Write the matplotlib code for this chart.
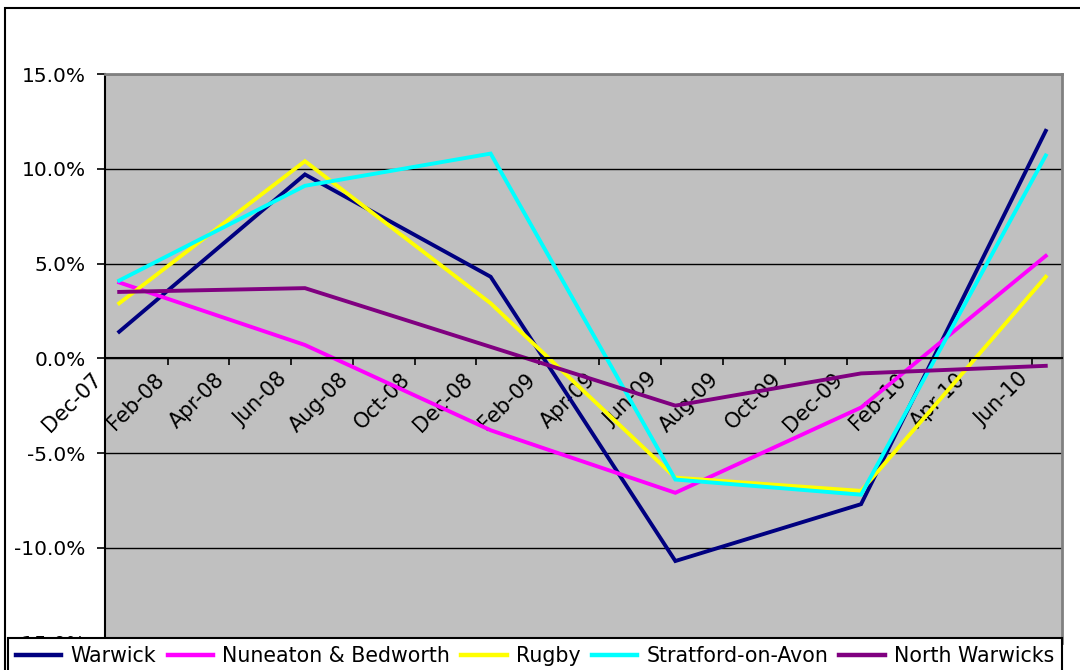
import numpy as np
import pandas as pd
import matplotlib
matplotlib.use("Agg")
import matplotlib.pyplot as plt
import matplotlib.dates as mdates
from matplotlib.patches import Rectangle
from matplotlib.ticker import FuncFormatter

# data (percentage change)
dates = pd.to_datetime(["2007-12-15", "2008-06-15", "2008-12-15",
                        "2009-06-15", "2009-12-15", "2010-06-15"])
warwick = [1.4, 9.7, 4.3, -10.7, -7.7, 12.0]
nuneaton = [4.0, 0.7, -3.8, -7.1, -2.6, 5.4]
rugby = [2.9, 10.4, 2.9, -6.3, -7.0, 4.3]
stratford = [4.1, 9.1, 10.8, -6.4, -7.2, 10.7]
north_warwicks = [3.5, 3.7, 0.6, -2.5, -0.8, -0.4]

names = ["Warwick", "Nuneaton & Bedworth", "Rugby", "Stratford-on-Avon", "North Warwicks"]
series = [warwick, nuneaton, rugby, stratford, north_warwicks]
colors = ["#000080", "#FF00FF", "#FFFF00", "#00FFFF", "#800080"]

plt.rcParams['font.family'] = ['DejaVu Sans']
plt.rcParams['font.size'] = 14

W, H = 1080, 670
fig = plt.figure(figsize=(W / 100, H / 100), dpi=100)
ax = fig.add_axes([105 / W, 1 - 642.5 / H, (1062 - 105) / W, (642.5 - 74) / H])
ax.set_facecolor("#C0C0C0")
ax.set_axisbelow(True)

for vals, name, c in zip(series, names, colors):
    ax.plot(dates, vals, color=c, lw=2.8, label=name, solid_joinstyle='miter')

ax.set_ylim(-15, 15)
ax.set_yticks(np.arange(-15, 16, 5))
ax.yaxis.set_major_formatter(FuncFormatter(lambda v, p: "%.1f%%" % v))
ax.set_xlim(pd.Timestamp("2007-12-01"), pd.Timestamp("2010-07-01"))
ax.xaxis.set_major_locator(mdates.MonthLocator(bymonth=[2, 4, 6, 8, 10, 12]))
ax.xaxis.set_major_formatter(mdates.DateFormatter("%b-%y"))

ax.grid(axis='y', color='black', lw=1)
ax.spines['bottom'].set_position(('data', 0))
ax.spines['bottom'].set_linewidth(1.5)
ax.spines['left'].set_linewidth(1.5)
ax.spines['top'].set_color('#808080')
ax.spines['right'].set_color('#808080')
ax.spines['top'].set_linewidth(2)
ax.spines['right'].set_linewidth(2)

ax.tick_params(axis='y', direction='out', length=6, width=1.2, pad=8, labelsize=14.5)
ax.tick_params(axis='x', direction='out', length=5, width=1.2, pad=13, labelsize=15)
for lab in ax.get_xticklabels():
    lab.set_rotation(45)
    lab.set_ha('right')
    lab.set_va('bottom')
    lab.set_rotation_mode('anchor')

# outer chart frame
fig.patches.append(Rectangle((5 / W, -0.2), 1.2, 1.2 - 8 / H, transform=fig.transFigure,
                             fill=False, ec='black', lw=1.5))

leg = fig.legend(loc='upper left', bbox_to_anchor=(8 / W, 1 - 638 / H), ncol=5,
                 frameon=True, fancybox=False, edgecolor='black', framealpha=1,
                 handlelength=2.2, handletextpad=0.45, columnspacing=0.55,
                 borderpad=0.4, borderaxespad=0, fontsize=14.8)
leg.get_frame().set_linewidth(1.5)
for h in leg.get_lines():
    h.set_linewidth(3.2)

fig.savefig("out.png", dpi=100)
